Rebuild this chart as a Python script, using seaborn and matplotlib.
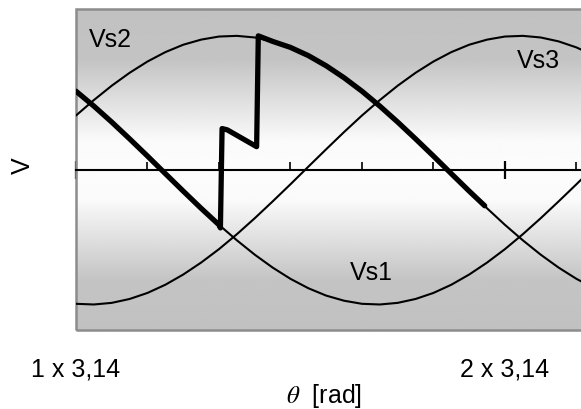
import matplotlib
matplotlib.use("Agg")
import matplotlib.pyplot as plt
import numpy as np
import seaborn as sns
from matplotlib.patches import Rectangle

# ---------------- data ----------------
# electrical angle in degrees (180 = 1 x 3,14 rad, 360 = 2 x 3,14 rad)
theta = [180, 187.5, 195, 202.5, 210, 217.5, 225, 232.5, 240, 247.5,
         255, 262.5, 270, 277.5, 285, 292.5, 300, 307.5, 315, 322.5,
         330, 337.5, 345, 352.5, 360, 367.5, 375, 382.5, 390, 397.5]

vs1 = [0.588, 0.477, 0.358, 0.233, 0.105, -0.026, -0.156, -0.284, -0.407, -0.522,
       -0.629, -0.725, -0.809, -0.879, -0.934, -0.972, -0.995, -1.000, -0.988, -0.959,
       -0.914, -0.853, -0.777, -0.688, -0.588, -0.477, -0.358, -0.233, -0.105, 0.026]

vs2 = [0.407, 0.522, 0.629, 0.725, 0.809, 0.879, 0.934, 0.972, 0.995, 1.000,
       0.988, 0.959, 0.914, 0.853, 0.777, 0.688, 0.588, 0.477, 0.358, 0.233,
       0.105, -0.026, -0.156, -0.284, -0.407, -0.522, -0.629, -0.725, -0.809, -0.879]

vs3 = [-0.995, -1.000, -0.988, -0.959, -0.914, -0.853, -0.777, -0.688, -0.588, -0.477,
       -0.358, -0.233, -0.105, 0.026, 0.156, 0.284, 0.407, 0.522, 0.629, 0.725,
       0.809, 0.879, 0.934, 0.972, 0.995, 1.000, 0.988, 0.959, 0.914, 0.853]

# output voltage (thick trace)
out_theta = [180, 187.5, 195, 202.5, 210, 217.5, 225, 232.5, 240, 240.6,
             241.3, 243.5, 255.8, 256.5, 262.5, 270, 277.5, 285, 292.5, 300,
             307.5, 315, 322.5, 330, 337.5, 345, 351.5]
out_v = [0.588, 0.477, 0.358, 0.233, 0.105, -0.026, -0.156, -0.284, -0.407, -0.43,
         0.31, 0.30, 0.175, 1.0, 0.959, 0.914, 0.853, 0.777, 0.688, 0.588,
         0.477, 0.358, 0.233, 0.105, -0.026, -0.156, -0.265]

major_ticks = [180, 360]
major_labels = ["1 x 3,14", "2 x 3,14"]
minor_ticks = [210, 240, 270, 300, 330, 390]

series_labels = ["Vs1", "Vs2", "Vs3"]
label_pos = [(304.0, -0.757), (194.3, 0.974), (374.1, 0.817)]

# ---------------- style ----------------
sns.set_style("white")
plt.rcParams["font.family"] = ["Liberation Sans", "DejaVu Sans"]
plt.rcParams["mathtext.fontset"] = "stix"
plt.rcParams["text.color"] = "black"
plt.rcParams["xtick.color"] = "black"
plt.rcParams["xtick.labelcolor"] = "black"

fig = plt.figure(figsize=(5.81, 4.10), dpi=100)
ax = fig.add_axes([76 / 581, 79 / 410, 514 / 581, 321 / 410])

# gradient background (gray - white - gray)
d = np.abs(np.linspace(-161, 160, 400))
shade = np.interp(d, [0, 30, 110, 170], [252, 250, 196, 192])
grad = np.repeat(shade[:, None], 2, axis=1)
ax.imshow(grad, extent=[0, 1, 0, 1], transform=ax.transAxes, aspect="auto",
          cmap="gray", vmin=0, vmax=255, zorder=0, interpolation="bilinear")

for ys in (vs1, vs2, vs3):
    sns.lineplot(x=theta, y=ys, ax=ax, color="black", lw=1.5, sort=False,
                 estimator=None, zorder=3)

sns.lineplot(x=out_theta, y=out_v, ax=ax, color="black", lw=3.8, sort=False,
             estimator=None, zorder=4, solid_joinstyle="round",
             solid_capstyle="round")

for txt, (px, py) in zip(series_labels, label_pos):
    ax.text(px, py, txt, fontsize=18, ha="center", va="center", zorder=5,
            color="black")

ax.set_xlim(180, 395.7)
ax.set_ylim(-1.19, 1.20)
ax.set_xlabel("")
ax.set_ylabel("")
ax.set_yticks([])

for s in ("left", "top", "right"):
    ax.spines[s].set_visible(False)
ax.spines["bottom"].set_position(("data", 0))
ax.spines["bottom"].set_color("black")
ax.spines["bottom"].set_linewidth(1.5)
ax.spines["bottom"].set_zorder(3)

ax.set_xticks(major_ticks, labels=major_labels)
ax.set_xticks(minor_ticks, minor=True)
ax.tick_params(axis="x", which="both", bottom=True, top=False)
ax.tick_params(axis="x", which="major", direction="inout", length=13, width=1.6,
               color="black", labelsize=18, pad=128, labelcolor="black")
ax.tick_params(axis="x", which="minor", direction="in", length=5.5, width=1.2,
               color="black")

# gray frame around the plot area (below the axis ticks)
ax.add_patch(Rectangle((0, 0), 1, 1, transform=ax.transAxes, fill=False,
                       edgecolor="#8c8c8c", lw=1.8, clip_on=False, zorder=1))

fig.text(23 / 581, 1 - 166 / 410, "V", rotation=90, ha="center", va="center",
         fontsize=18, color="black")
fig.text(286 / 581, 1 - 396 / 410, r"$\theta$  [rad]", ha="left", va="center",
         fontsize=18, color="black")

fig.savefig("out.png", dpi=100)
